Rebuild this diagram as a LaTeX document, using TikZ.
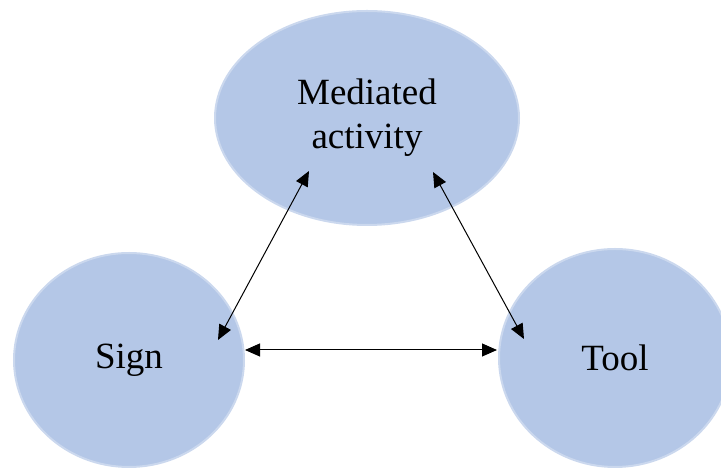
\documentclass[tikz,border=0pt]{standalone}
\usepackage{fontspec}
\setmainfont{Liberation Serif}
\usepackage{tikz}
\usetikzlibrary{shapes,arrows.meta,positioning}

\definecolor{blobblue}{RGB}{180,199,231}

\tikzset{
    blob/.style={ellipse, fill=blobblue, draw=blobblue!70, line width=2pt, inner sep=0pt,
        font=\fontsize{37}{44}\selectfont, align=center},
    link/.style={{Triangle[length=15pt,width=13pt]}-{Triangle[length=15pt,width=13pt]}, line width=1pt}
}

\begin{document}
\begin{tikzpicture}[x=1pt,y=1pt]
    \useasboundingbox (0,0) rectangle (721,468);

    % Circles
    \node[blob, minimum width=304pt, minimum height=214pt] (med) at (367,350) {Mediated\\activity};
    \node[blob, minimum width=230pt, minimum height=214pt] (sign) at (129,108) {Sign};
    \node[blob, minimum width=232pt, minimum height=218pt] (tool) at (615,110) {Tool};

    % Arrow ends
    \coordinate (s1) at (218,128);
    \coordinate (m1) at (309,297);
    \coordinate (m2) at (433,296);
    \coordinate (t1) at (524,129);
    \coordinate (s2) at (245,118);
    \coordinate (t2) at (497,118);

    % Arrows
    \draw[link] (s1) -- (m1);
    \draw[link] (m2) -- (t1);
    \draw[link] (s2) -- (t2);
\end{tikzpicture}
\end{document}
